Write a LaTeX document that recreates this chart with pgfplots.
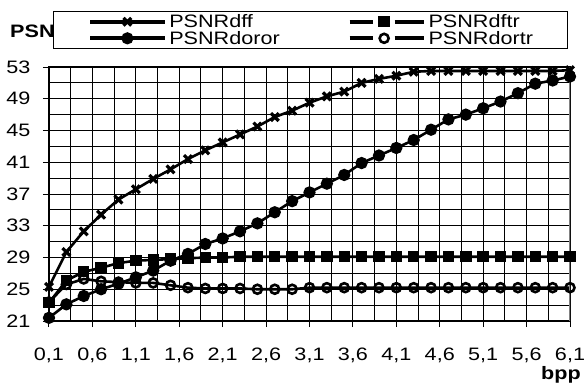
\documentclass[border=0pt]{standalone}
\usepackage{pgfplots}
\pgfplotsset{compat=1.18}
\usepackage{fontspec}
\setmainfont{Liberation Sans}[FakeStretch=1.2]

\pgfplotstableread{
x dff doror dftr dortr
0.1 25.3 21.4 23.3 23.4
0.3 29.7 23.1 26.1 25.6
0.5 32.3 24.15 27.2 26.3
0.7 34.4 25.0 27.7 26.0
0.9 36.3 25.7 28.3 25.9
1.1 37.6 26.5 28.6 25.8
1.3 38.9 27.35 28.7 25.8
1.5 40.1 28.6 28.8 25.5
1.7 41.4 29.45 28.9 25.2
1.9 42.5 30.7 29.0 25.1
2.1 43.5 31.4 29.0 25.1
2.3 44.5 32.3 29.1 25.1
2.5 45.5 33.3 29.1 25.0
2.7 46.7 34.7 29.1 25.0
2.9 47.5 36.1 29.1 25.0
3.1 48.5 37.2 29.1 25.2
3.3 49.3 38.3 29.1 25.2
3.5 49.9 39.4 29.1 25.2
3.7 51.0 40.9 29.1 25.2
3.9 51.5 41.85 29.1 25.2
4.1 51.9 42.8 29.1 25.2
4.3 52.4 43.8 29.1 25.2
4.5 52.5 45.1 29.1 25.2
4.7 52.5 46.4 29.1 25.2
4.9 52.5 47.0 29.1 25.2
5.1 52.5 47.8 29.1 25.2
5.3 52.5 48.65 29.1 25.2
5.5 52.5 49.7 29.1 25.2
5.7 52.5 50.9 29.1 25.2
5.9 52.5 51.3 29.1 25.2
6.1 52.6 51.8 29.1 25.2
}\datatab

\pgfplotsset{
  solidleg/.style={legend image code/.code={
    \draw[black, line width=3.8pt] (0pt,0pt) -- (75pt,0pt);
    \draw[black, line width=2.5pt,##1] plot coordinates {(37pt,0pt)};}},
  dashleg/.style={legend image code/.code={
    \draw[black, line width=3.8pt] (0pt,0pt) -- (23pt,0pt) (45pt,0pt) -- (74pt,0pt);
    \draw[black, line width=2.5pt,##1] plot coordinates {(34.5pt,0pt)};}},
}

\begin{document}
\begin{tikzpicture}
\node[anchor=base west, font=\fontsize{18}{20}\selectfont\bfseries, inner sep=0pt] at (-39pt,30pt) {PSNR};
\begin{axis}[
  name=ax,
  at={(0pt,0pt)}, anchor=north west,
  scale only axis, width=521pt, height=254pt,
  xmin=0.1, xmax=6.1, ymin=21, ymax=53,
  xtick={0.1,0.6,1.1,1.6,2.1,2.6,3.1,3.6,4.1,4.6,5.1,5.6,6.1},
  xticklabels={{0,1},{0,6},{1,1},{1,6},{2,1},{2,6},{3,1},{3,6},{4,1},{4,6},{5,1},{5,6},{6,1}},
  ytick={21,25,29,33,37,41,45,49,53},
  minor x tick num=1, minor y tick num=1,
  grid=both,
  major grid style={black, line width=1pt},
  minor grid style={black, line width=1pt},
  tick pos=left, tick align=outside,
  major tick length=6pt, minor tick length=0pt,
  tick style={black, line width=1pt},
  axis line style={black, line width=1.2pt},
  /pgf/number format/assume math mode=true,
  ticklabel style={font=\fontsize{18}{20}\selectfont},
  xticklabel style={anchor=base, yshift=-33pt},
  yticklabel style={anchor=east, xshift=-9pt},
  xlabel={bpp},
  xlabel style={font=\fontsize{18}{20}\selectfont\bfseries, at={(axis description cs:1,0)}, anchor=base east, xshift=11pt, yshift=-58pt, inner sep=0pt},
  legend columns=2,
  legend cell align=left,
  legend style={at={(axis description cs:0,1)}, anchor=north west, xshift=4pt, yshift=56pt,
    draw=black, line width=1pt, fill=white, inner xsep=35pt, inner ysep=3pt,
    font=\fontsize{18}{20}\selectfont, row sep=2pt,
    nodes={inner sep=0pt},
    /tikz/column 1/.style={column sep=2pt},
    /tikz/column 2/.style={column sep=68pt},
    /tikz/column 3/.style={column sep=3pt}},
]
\addplot[black, line width=2.6pt, mark=x, mark size=5.5pt, mark options={line width=3.2pt}, solidleg] table[x=x, y=dff] {\datatab};
\addlegendentry{PSNRdff}
\addplot[black, line width=2.6pt, mark=square*, mark size=4.4pt, mark options={solid}, dashleg] table[x=x, y=dftr] {\datatab};
\addlegendentry{PSNRdftr}
\addplot[black, line width=2.6pt, mark=*, mark size=4.8pt, solidleg] table[x=x, y=doror] {\datatab};
\addlegendentry{PSNRdoror}
\addplot[black, line width=2.6pt, mark=o, mark size=4.5pt, mark options={fill=white, line width=2.6pt}, dashleg] table[x=x, y=dortr] {\datatab};
\addlegendentry{PSNRdortr}
\draw[gray, line width=2pt] (rel axis cs:1,0) -- (rel axis cs:1,1);
\end{axis}
\pgfresetboundingbox
\path (-49pt,67pt) rectangle (536pt,-321pt);
\end{tikzpicture}
\end{document}
